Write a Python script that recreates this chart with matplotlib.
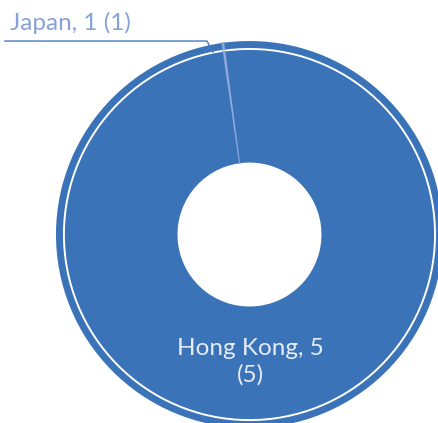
import matplotlib.pyplot as plt

# doughnut data: label counts and the arc each country takes on the ring
countries = ["Japan", "Hong Kong"]
counts = [1, 5]
arc_deg = [0.8, 359.2]

blue = "#3B73B9"
light_blue = "#8EA9DA"
colors = [light_blue, blue]

plt.rcParams['font.family'] = ['Lato', 'DejaVu Sans']

fig = plt.figure(figsize=(4.38, 4.23), dpi=100)
ax = fig.add_axes([0, 0, 1, 1])
ax.set_aspect('equal')
ax.axis('off')

start = 90 + 8.3
# inner (main) ring
wedges, _ = ax.pie(arc_deg, radius=0.954, startangle=start, counterclock=False,
                   colors=colors, wedgeprops=dict(width=0.582, linewidth=0))
# thin outer ring
outer, _ = ax.pie(arc_deg, radius=1.0, startangle=start, counterclock=False,
                  colors=colors, wedgeprops=dict(width=0.036, linewidth=0))
for w in (wedges[0], outer[0]):
    w.set_edgecolor(light_blue)
    w.set_linewidth(1.0)

ax.set_xlim(-1.289, 0.974)
ax.set_ylim(-0.974, 1.212)

# leader line for the small slice
ax.plot([-1.264, -0.2196, -0.189], [1.0, 1.0, 0.943], color="#4A78C0", lw=1.0,
        solid_joinstyle='miter')
ax.text(-1.238, 1.092, f"{countries[0]}, {counts[0]} ({counts[0]})", color="#86A2D6",
        fontsize=17.5, ha='left', va='center')

ax.text(0.003, -0.658, f"{countries[1]}, {counts[1]}\n({counts[1]})", color="#E6ECF7",
        fontsize=17.5, ha='center', va='center', linespacing=1.25)

fig.savefig("out.png", dpi=100)
